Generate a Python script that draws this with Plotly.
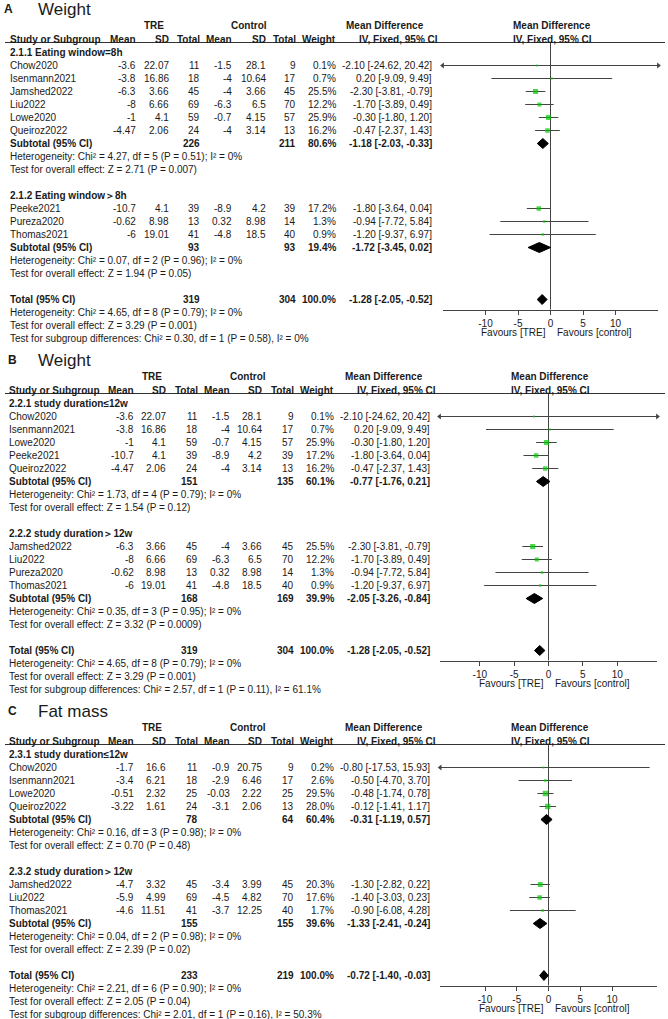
import math
import plotly.graph_objects as go

W, H = 668, 1019
FONT = "Liberation Sans, Arial, Helvetica, sans-serif"
TXT = "#1a1a1a"
LINE = "#444444"
GREEN = "#00c800"

# ---------------- Panel A : Weight (eating window) ----------------
a_groups = ["2.1.1 Eating window=8h", "2.1.2 Eating window\uff1e8h"]
a_study = ["Chow2020", "Isenmann2021", "Jamshed2022", "Liu2022", "Lowe2020", "Queiroz2022",
           "Peeke2021", "Pureza2020", "Thomas2021"]
a_grp = [0, 0, 0, 0, 0, 0, 1, 1, 1]
a_tre_mean = [-3.6, -3.8, -6.3, -8, -1, -4.47, -10.7, -0.62, -6]
a_tre_sd = [22.07, 16.86, 3.66, 6.66, 4.1, 2.06, 4.1, 8.98, 19.01]
a_tre_n = [11, 18, 45, 69, 59, 24, 39, 13, 41]
a_ctl_mean = [-1.5, -4, -4, -6.3, -0.7, -4, -8.9, 0.32, -4.8]
a_ctl_sd = [28.1, 10.64, 3.66, 6.5, 4.15, 3.14, 4.2, 8.98, 18.5]
a_ctl_n = [9, 17, 45, 70, 57, 13, 39, 14, 40]
a_weight = [0.1, 0.7, 25.5, 12.2, 25.9, 16.2, 17.2, 1.3, 0.9]
a_md = [-2.10, 0.20, -2.30, -1.70, -0.30, -0.47, -1.80, -0.94, -1.20]
a_lo = [-24.62, -9.09, -3.81, -3.89, -1.80, -2.37, -3.64, -7.72, -9.37]
a_hi = [20.42, 9.49, -0.79, 0.49, 1.20, 1.43, 0.04, 5.84, 6.97]
a_sub_tre_n = [226, 93]
a_sub_ctl_n = [211, 93]
a_sub_weight = [80.6, 19.4]
a_sub_md = [-1.18, -1.72]
a_sub_lo = [-2.03, -3.45]
a_sub_hi = [-0.33, 0.02]
a_sub_het = ["Heterogeneity: Chi\u00b2 = 4.27, df = 5 (P = 0.51); I\u00b2 = 0%",
             "Heterogeneity: Chi\u00b2 = 0.07, df = 2 (P = 0.96); I\u00b2 = 0%"]
a_sub_z = ["Test for overall effect: Z = 2.71 (P = 0.007)",
           "Test for overall effect: Z = 1.94 (P = 0.05)"]
a_total = [319, 304, 100.0, -1.28, -2.05, -0.52]
a_total_het = "Heterogeneity: Chi\u00b2 = 4.65, df = 8 (P = 0.79); I\u00b2 = 0%"
a_total_z = "Test for overall effect: Z = 3.29 (P = 0.001)"
a_subdiff = "Test for subgroup differences: Chi\u00b2 = 0.30, df = 1 (P = 0.58), I\u00b2 = 0%"

# ---------------- Panel B : Weight (study duration) ----------------
b_groups = ["2.2.1 study duration\u226412w", "2.2.2 study duration\uff1e12w"]
b_study = ["Chow2020", "Isenmann2021", "Lowe2020", "Peeke2021", "Queiroz2022",
           "Jamshed2022", "Liu2022", "Pureza2020", "Thomas2021"]
b_grp = [0, 0, 0, 0, 0, 1, 1, 1, 1]
b_tre_mean = [-3.6, -3.8, -1, -10.7, -4.47, -6.3, -8, -0.62, -6]
b_tre_sd = [22.07, 16.86, 4.1, 4.1, 2.06, 3.66, 6.66, 8.98, 19.01]
b_tre_n = [11, 18, 59, 39, 24, 45, 69, 13, 41]
b_ctl_mean = [-1.5, -4, -0.7, -8.9, -4, -4, -6.3, 0.32, -4.8]
b_ctl_sd = [28.1, 10.64, 4.15, 4.2, 3.14, 3.66, 6.5, 8.98, 18.5]
b_ctl_n = [9, 17, 57, 39, 13, 45, 70, 14, 40]
b_weight = [0.1, 0.7, 25.9, 17.2, 16.2, 25.5, 12.2, 1.3, 0.9]
b_md = [-2.10, 0.20, -0.30, -1.80, -0.47, -2.30, -1.70, -0.94, -1.20]
b_lo = [-24.62, -9.09, -1.80, -3.64, -2.37, -3.81, -3.89, -7.72, -9.37]
b_hi = [20.42, 9.49, 1.20, 0.04, 1.43, -0.79, 0.49, 5.84, 6.97]
b_sub_tre_n = [151, 168]
b_sub_ctl_n = [135, 169]
b_sub_weight = [60.1, 39.9]
b_sub_md = [-0.77, -2.05]
b_sub_lo = [-1.76, -3.26]
b_sub_hi = [0.21, -0.84]
b_sub_het = ["Heterogeneity: Chi\u00b2 = 1.73, df = 4 (P = 0.79); I\u00b2 = 0%",
             "Heterogeneity: Chi\u00b2 = 0.35, df = 3 (P = 0.95); I\u00b2 = 0%"]
b_sub_z = ["Test for overall effect: Z = 1.54 (P = 0.12)",
           "Test for overall effect: Z = 3.32 (P = 0.0009)"]
b_total = [319, 304, 100.0, -1.28, -2.05, -0.52]
b_total_het = "Heterogeneity: Chi\u00b2 = 4.65, df = 8 (P = 0.79); I\u00b2 = 0%"
b_total_z = "Test for overall effect: Z = 3.29 (P = 0.001)"
b_subdiff = "Test for subgroup differences: Chi\u00b2 = 2.57, df = 1 (P = 0.11), I\u00b2 = 61.1%"

# ---------------- Panel C : Fat mass ----------------
c_groups = ["2.3.1 study duration\u226412w", "2.3.2 study duration\uff1e12w"]
c_study = ["Chow2020", "Isenmann2021", "Lowe2020", "Queiroz2022",
           "Jamshed2022", "Liu2022", "Thomas2021"]
c_grp = [0, 0, 0, 0, 1, 1, 1]
c_tre_mean = [-1.7, -3.4, -0.51, -3.22, -4.7, -5.9, -4.6]
c_tre_sd = [16.6, 6.21, 2.32, 1.61, 3.32, 4.99, 11.51]
c_tre_n = [11, 18, 25, 24, 45, 69, 41]
c_ctl_mean = [-0.9, -2.9, -0.03, -3.1, -3.4, -4.5, -3.7]
c_ctl_sd = [20.75, 6.46, 2.22, 2.06, 3.99, 4.82, 12.25]
c_ctl_n = [9, 17, 25, 13, 45, 70, 40]
c_weight = [0.2, 2.6, 29.5, 28.0, 20.3, 17.6, 1.7]
c_md = [-0.80, -0.50, -0.48, -0.12, -1.30, -1.40, -0.90]
c_lo = [-17.53, -4.70, -1.74, -1.41, -2.82, -3.03, -6.08]
c_hi = [15.93, 3.70, 0.78, 1.17, 0.22, 0.23, 4.28]
c_sub_tre_n = [78, 155]
c_sub_ctl_n = [64, 155]
c_sub_weight = [60.4, 39.6]
c_sub_md = [-0.31, -1.33]
c_sub_lo = [-1.19, -2.41]
c_sub_hi = [0.57, -0.24]
c_sub_het = ["Heterogeneity: Chi\u00b2 = 0.16, df = 3 (P = 0.98); I\u00b2 = 0%",
             "Heterogeneity: Chi\u00b2 = 0.04, df = 2 (P = 0.98); I\u00b2 = 0%"]
c_sub_z = ["Test for overall effect: Z = 0.70 (P = 0.48)",
           "Test for overall effect: Z = 2.39 (P = 0.02)"]
c_total = [233, 219, 100.0, -0.72, -1.40, -0.03]
c_total_het = "Heterogeneity: Chi\u00b2 = 2.21, df = 6 (P = 0.90); I\u00b2 = 0%"
c_total_z = "Test for overall effect: Z = 2.05 (P = 0.04)"
c_subdiff = "Test for subgroup differences: Chi\u00b2 = 2.01, df = 1 (P = 0.16), I\u00b2 = 50.3%"

tick_vals = [-10, -5, 0, 5, 10]
tick_text = ["-10", "-5", "0", "5", "10"]
col_headers = ["Mean", "SD", "Total", "Mean", "SD", "Total", "Weight"]

panels = [
    dict(letter="A", title="Weight", groups=a_groups, study=a_study, grp=a_grp,
         tm=a_tre_mean, tsd=a_tre_sd, tn=a_tre_n, cm=a_ctl_mean, csd=a_ctl_sd, cn=a_ctl_n,
         w=a_weight, md=a_md, lo=a_lo, hi=a_hi,
         stn=a_sub_tre_n, scn=a_sub_ctl_n, sw=a_sub_weight, smd=a_sub_md, slo=a_sub_lo, shi=a_sub_hi,
         shet=a_sub_het, sz=a_sub_z, tot=a_total, thet=a_total_het, tz=a_total_z, sdiff=a_subdiff),
    dict(letter="B", title="Weight", groups=b_groups, study=b_study, grp=b_grp,
         tm=b_tre_mean, tsd=b_tre_sd, tn=b_tre_n, cm=b_ctl_mean, csd=b_ctl_sd, cn=b_ctl_n,
         w=b_weight, md=b_md, lo=b_lo, hi=b_hi,
         stn=b_sub_tre_n, scn=b_sub_ctl_n, sw=b_sub_weight, smd=b_sub_md, slo=b_sub_lo, shi=b_sub_hi,
         shet=b_sub_het, sz=b_sub_z, tot=b_total, thet=b_total_het, tz=b_total_z, sdiff=b_subdiff),
    dict(letter="C", title="Fat mass", groups=c_groups, study=c_study, grp=c_grp,
         tm=c_tre_mean, tsd=c_tre_sd, tn=c_tre_n, cm=c_ctl_mean, csd=c_ctl_sd, cn=c_ctl_n,
         w=c_weight, md=c_md, lo=c_lo, hi=c_hi,
         stn=c_sub_tre_n, scn=c_sub_ctl_n, sw=c_sub_weight, smd=c_sub_md, slo=c_sub_lo, shi=c_sub_hi,
         shet=c_sub_het, sz=c_sub_z, tot=c_total, thet=c_total_het, tz=c_total_z, sdiff=c_subdiff),
]

# layout (pixel) settings per panel
layouts = [
    dict(header_y=39.5, row_h=13, letter_x=3, title_x=37, study_x=9,
         cols=[137, 170, 201, 233, 266.5, 297, 337], ci_x=433, tre_x=154, ctl_x=249,
         md_x=385, iv_x=398, x0=550.5, scale=6.5, half=16.6),
    dict(header_y=390.5, row_h=13, letter_x=7, title_x=37, study_x=8,
         cols=[135, 167, 199, 231, 263, 295, 335], ci_x=431, tre_x=152, ctl_x=248,
         md_x=383.5, iv_x=396.5, x0=548.5, scale=6.87, half=15.85),
    dict(header_y=741.5, row_h=13, letter_x=7, title_x=37, study_x=8,
         cols=[135, 167, 199, 231, 263, 295, 335], ci_x=431, tre_x=152, ctl_x=248,
         md_x=383.5, iv_x=396.5, x0=548.5, scale=6.35, half=17.05),
]

annotations = []
shapes = []
fig = go.Figure()


def txt(x, y, s, anchor="left", size=10, bold=False):
    if bold:
        s = "<b>" + s + "</b>"
    annotations.append(dict(x=x / W, y=y, xref="paper", yref="y", text=s, showarrow=False,
                            xanchor=anchor, yanchor="middle", borderpad=0,
                            font=dict(family=FONT, size=size, color=TXT)))


def fmt(v):
    return "%g" % v


def ci(md, lo, hi):
    return "%.2f [%.2f, %.2f]" % (md, lo, hi)


for i, (p, L) in enumerate(zip(panels, layouts)):
    xa = "x" if i == 0 else "x%d" % (i + 1)
    axname = "xaxis" if i == 0 else "xaxis%d" % (i + 1)
    hy, rh = L["header_y"], L["row_h"]
    cols = L["cols"]
    sx = L["study_x"]
    half = L["half"]

    def ry(r):
        return hy + rh * r

    # titles & headers
    txt(L["letter_x"], hy - 31, p["letter"], size=12, bold=True)
    txt(L["title_x"], hy - 30, p["title"], size=17)
    txt(L["tre_x"], hy - 14, "TRE", anchor="center", bold=True)
    txt(L["ctl_x"], hy - 14, "Control", anchor="center", bold=True)
    txt(L["md_x"], hy - 14, "Mean Difference", anchor="center", bold=True)
    txt(L["x0"] + 1, hy - 14, "Mean Difference", anchor="center", bold=True)
    txt(sx, hy, "Study or Subgroup", bold=True)
    for cx, ch in zip(cols, col_headers):
        txt(cx, hy, ch, anchor="right", bold=True)
    txt(L["iv_x"], hy, "IV, Fixed, 95% CI", anchor="center", bold=True)
    txt(L["x0"] + 2, hy, "IV, Fixed, 95% CI", anchor="center", bold=True)
    shapes.append(dict(type="line", xref="paper", yref="y", x0=5 / W, x1=665 / W,
                       y0=hy + 3, y1=hy + 3, line=dict(color="#333333", width=1)))

    ci_x, ci_y, sq_x, sq_y, sq_s = [], [], [], [], []
    arr_l_x, arr_l_y, arr_r_x, arr_r_y = [], [], [], []
    diamonds = []
    r = 1
    for g, gname in enumerate(p["groups"]):
        txt(sx, ry(r), gname, bold=True)
        r += 1
        for k in range(len(p["study"])):
            if p["grp"][k] != g:
                continue
            y = ry(r)
            vals = [fmt(p["tm"][k]), fmt(p["tsd"][k]), str(p["tn"][k]),
                    fmt(p["cm"][k]), fmt(p["csd"][k]), str(p["cn"][k]),
                    "%.1f%%" % p["w"][k]]
            txt(sx, y, p["study"][k])
            for cx, v in zip(cols, vals):
                txt(cx, y, v, anchor="right")
            txt(L["ci_x"], y, ci(p["md"][k], p["lo"][k], p["hi"][k]), anchor="right")
            lo_c = max(p["lo"][k], -half)
            hi_c = min(p["hi"][k], half)
            ci_x += [lo_c, hi_c, None]
            ci_y += [y, y, None]
            if p["lo"][k] < -half:
                arr_l_x.append(-half)
                arr_l_y.append(y)
            if p["hi"][k] > half:
                arr_r_x.append(half)
                arr_r_y.append(y)
            sq_x.append(p["md"][k])
            sq_y.append(y)
            sq_s.append(1.6 + 7 * math.sqrt(p["w"][k] / 100.0))
            r += 1
        y = ry(r)
        txt(sx, y, "Subtotal (95% CI)", bold=True)
        txt(cols[2], y, str(p["stn"][g]), anchor="right", bold=True)
        txt(cols[5], y, str(p["scn"][g]), anchor="right", bold=True)
        txt(cols[6], y, "%.1f%%" % p["sw"][g], anchor="right", bold=True)
        txt(L["ci_x"], y, ci(p["smd"][g], p["slo"][g], p["shi"][g]), anchor="right", bold=True)
        diamonds.append((p["smd"][g], p["slo"][g], p["shi"][g], y))
        r += 1
        txt(sx, ry(r), p["shet"][g])
        r += 1
        txt(sx, ry(r), p["sz"][g])
        r += 2
    tot = p["tot"]
    y_tot = ry(r)
    txt(sx, y_tot, "Total (95% CI)", bold=True)
    txt(cols[2], y_tot, str(tot[0]), anchor="right", bold=True)
    txt(cols[5], y_tot, str(tot[1]), anchor="right", bold=True)
    txt(cols[6], y_tot, "%.1f%%" % tot[2], anchor="right", bold=True)
    txt(L["ci_x"], y_tot, ci(tot[3], tot[4], tot[5]), anchor="right", bold=True)
    diamonds.append((tot[3], tot[4], tot[5], y_tot))
    txt(sx, ry(r + 1), p["thet"])
    txt(sx, ry(r + 2), p["tz"])
    txt(sx, ry(r + 3), p["sdiff"])

    axis_y = y_tot + 10

    # zero line
    fig.add_trace(go.Scatter(x=[0, 0], y=[hy + 3, axis_y], mode="lines", xaxis=xa, yaxis="y",
                             line=dict(color=LINE, width=1), hoverinfo="skip", showlegend=False))
    # CI lines
    fig.add_trace(go.Scatter(x=ci_x, y=ci_y, mode="lines", xaxis=xa, yaxis="y",
                             line=dict(color=LINE, width=1), hoverinfo="skip", showlegend=False))
    if arr_l_x:
        fig.add_trace(go.Scatter(x=arr_l_x, y=arr_l_y, mode="markers", xaxis=xa, yaxis="y",
                                 marker=dict(symbol="triangle-left", size=5, color=LINE),
                                 cliponaxis=False, hoverinfo="skip", showlegend=False))
    if arr_r_x:
        fig.add_trace(go.Scatter(x=arr_r_x, y=arr_r_y, mode="markers", xaxis=xa, yaxis="y",
                                 marker=dict(symbol="triangle-right", size=5, color=LINE),
                                 cliponaxis=False, hoverinfo="skip", showlegend=False))
    # squares
    fig.add_trace(go.Scatter(x=sq_x, y=sq_y, mode="markers", xaxis=xa, yaxis="y",
                             marker=dict(symbol="square", size=sq_s, color=GREEN, line=dict(width=0)),
                             hoverinfo="skip", showlegend=False))
    # diamonds
    for (m, lo, hi, y) in diamonds:
        fig.add_trace(go.Scatter(x=[lo, m, hi, m, lo], y=[y, y - 5, y, y + 5, y], mode="lines",
                                 fill="toself", fillcolor="black", line=dict(color="black", width=1),
                                 xaxis=xa, yaxis="y", hoverinfo="skip", showlegend=False))

    # favours labels
    txt(L["x0"] - 4, axis_y + 23, "Favours [TRE]", anchor="right")
    txt(L["x0"] + 5, axis_y + 23, "Favours [control]", anchor="left")

    x0, s = L["x0"], L["scale"]
    fig.update_layout(**{axname: dict(
        domain=[(x0 - half * s) / W, (x0 + half * s) / W], range=[-half, half],
        anchor="free", position=1 - axis_y / H,
        showline=True, linecolor=LINE, linewidth=1, ticks="outside", ticklen=4, tickcolor=LINE,
        tickvals=tick_vals, ticktext=tick_text, tickfont=dict(family=FONT, size=10, color=TXT),
        showgrid=False, zeroline=False, fixedrange=True)})

fig.update_layout(
    width=W, height=H, margin=dict(l=0, r=0, t=0, b=0),
    paper_bgcolor="white", plot_bgcolor="rgba(0,0,0,0)",
    yaxis=dict(domain=[0, 1], range=[H, 0], visible=False, fixedrange=True),
    annotations=annotations, shapes=shapes, showlegend=False,
    font=dict(family=FONT, size=10, color=TXT),
)

fig.write_html("out.html", config={"displayModeBar": False, "staticPlot": True},
               post_script="document.body.style.margin='0px';document.body.style.overflow='hidden';")
